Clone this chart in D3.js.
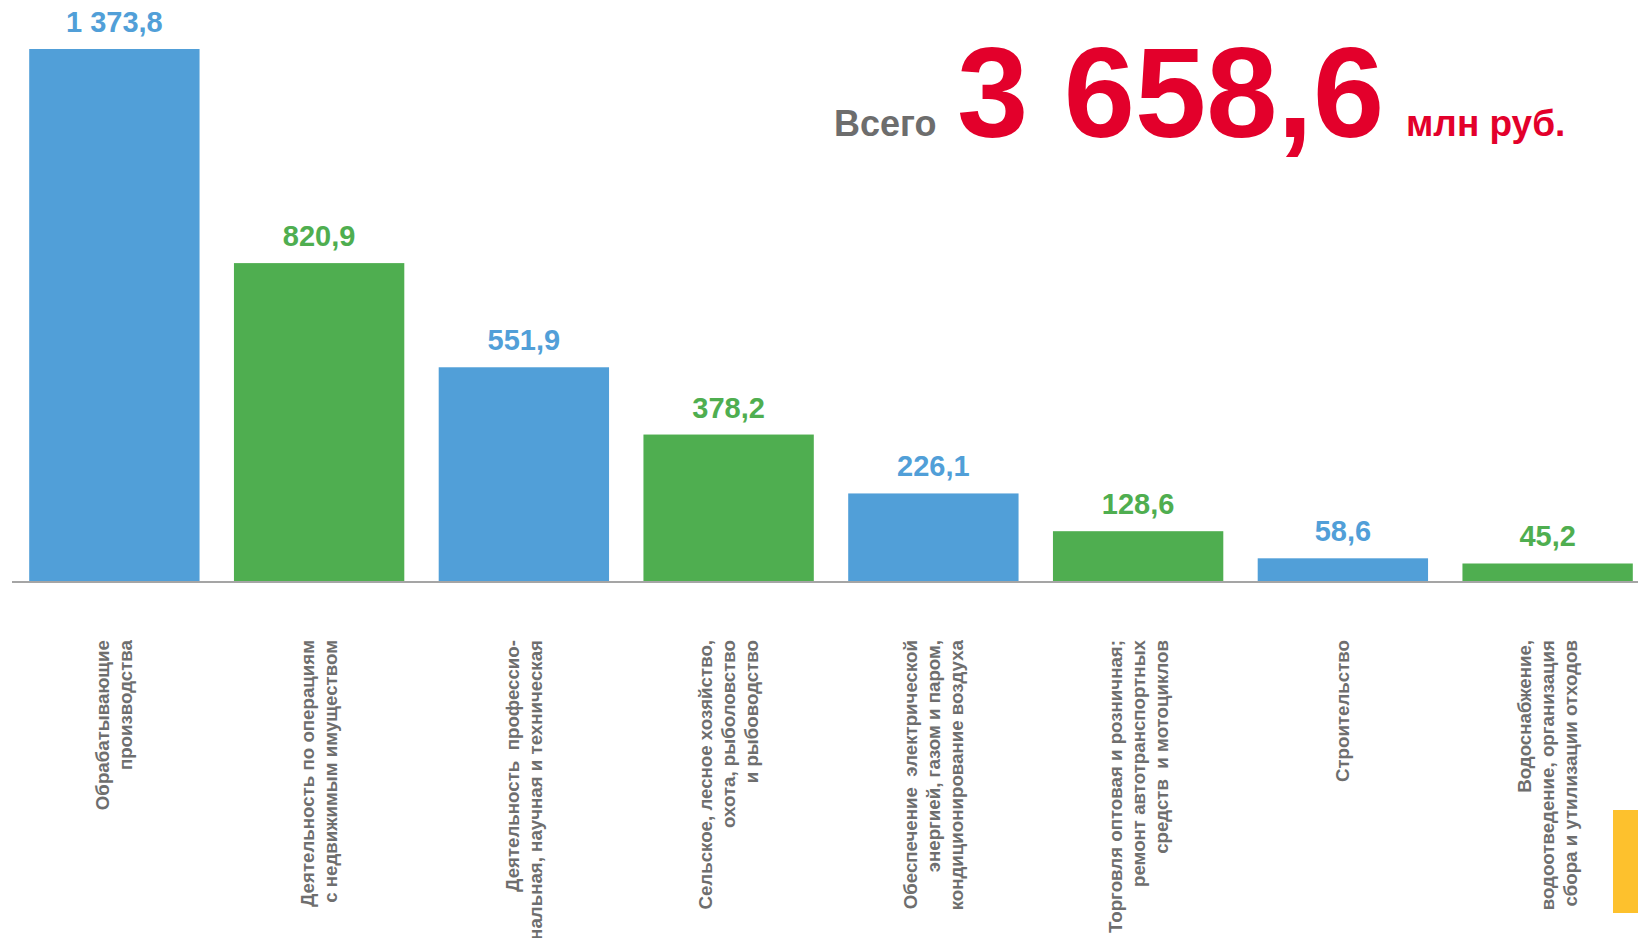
<!DOCTYPE html>
<html>
<head>
<meta charset="utf-8">
<script src="https://d3js.org/d3.v7.min.js"></script>
<title>Всего 3 658,6 млн руб.</title>
<style type="text/css">
  body {
    margin: 0;
    background: #ffffff;
    font-family: "Liberation Sans", Arial, sans-serif;
  }
  svg { display: block; }
</style>
</head>
<body>

<div id="myvisualization"></div>

<script>

// data
var categories = [
  "Обрабатывающие\nпроизводства",
  "Деятельность по операциям\nс недвижимым имуществом",
  "Деятельность  профессио-\nнальная, научная и техническая",
  "Сельское, лесное хозяйство,\nохота, рыболовство\nи рыбоводство",
  "Обеспечение  электрической\nэнергией, газом и паром,\nкондиционирование воздуха",
  "Торговля оптовая и розничная;\nремонт автотранспортных\nсредств  и мотоциклов",
  "Строительство",
  "Водоснабжение,\nводоотведение, организация\nсбора и утилизации отходов"
];
var values = [1373.8, 820.9, 551.9, 378.2, 226.1, 128.6, 58.6, 45.2];
var barColors = ["#519fd8", "#4fae50"];
var total = 3658.6;
var totalPrefix = "Всего";
var totalUnit = "млн руб.";

// sizes
var width = 1638,
    height = 938,
    baseline = 581,
    labelTop = 640;

// russian number format: 1 373,8
var ru = d3.formatLocale({decimal: ",", thousands: " ", grouping: [3], currency: ["", ""]});
var fmt = ru.format(",.1f");

var svg = d3.select("#myvisualization").append("svg")
  .attr("width", width)
  .attr("height", height);

// scales
var x = d3.scaleBand()
  .domain(categories)
  .range([12, 1650])
  .paddingInner(0.168)
  .paddingOuter(0.084);

var y = d3.scaleLinear()
  .domain([0, d3.max(values)])
  .range([baseline, 49]);

var data = categories.map(function(c, i) { return {cat: c, value: values[i], color: barColors[i % 2]}; });

// bars
svg.append("g").selectAll("rect")
  .data(data)
  .enter().append("rect")
  .attr("x", function(d) { return x(d.cat); })
  .attr("width", x.bandwidth())
  .attr("y", function(d) { return y(d.value); })
  .attr("height", function(d) { return baseline - y(d.value); })
  .style("fill", function(d) { return d.color; });

// axis line
svg.append("line")
  .attr("x1", 12).attr("x2", width)
  .attr("y1", baseline + 1).attr("y2", baseline + 1)
  .attr("stroke", "#a5a5a5")
  .attr("stroke-width", 2);

// value labels
svg.append("g").selectAll("text")
  .data(data)
  .enter().append("text")
  .attr("x", function(d) { return x(d.cat) + x.bandwidth() / 2; })
  .attr("y", function(d) { return y(d.value) - 17; })
  .attr("text-anchor", "middle")
  .style("font-size", "29px")
  .style("font-weight", "bold")
  .style("fill", function(d) { return d.color; })
  .text(function(d) { return fmt(d.value); });

// category labels, rotated
var lineGap = 23;
var cats = svg.append("g").selectAll("text")
  .data(data)
  .enter().append("text")
  .attr("transform", function(d) {
    return "translate(" + (x(d.cat) + x.bandwidth() / 2) + "," + labelTop + ") rotate(-90)";
  })
  .attr("text-anchor", "end")
  .style("font-size", "18.7px")
  .style("font-weight", "bold")
  .style("fill", "#6e6e6e")
  .style("white-space", "pre");

cats.each(function(d) {
  var lines = d.cat.split("\n");
  var start = -(lines.length - 1) * lineGap / 2;
  d3.select(this).selectAll("tspan")
    .data(lines)
    .enter().append("tspan")
    .attr("x", 0)
    .attr("y", function(l, i) { return start + i * lineGap; })
    .attr("dy", "0.35em")
    .text(function(l) { return l; });
});

// total heading
svg.append("text")
  .attr("x", 834).attr("y", 136)
  .style("font-size", "36px")
  .style("font-weight", "bold")
  .style("fill", "#6d6d6d")
  .text(totalPrefix);

svg.append("text")
  .attr("x", 957).attr("y", 137)
  .style("font-size", "128px")
  .style("font-weight", "bold")
  .style("fill", "#e3002b")
  .text(fmt(total));

svg.append("text")
  .attr("x", 1406).attr("y", 136)
  .style("font-size", "37px")
  .style("font-weight", "bold")
  .style("fill", "#e3002b")
  .text(totalUnit);

// yellow marker at right edge
svg.append("rect")
  .attr("x", 1613).attr("y", 810)
  .attr("width", 25).attr("height", 103)
  .style("fill", "#fdc12d");

</script>
</body>
</html>
